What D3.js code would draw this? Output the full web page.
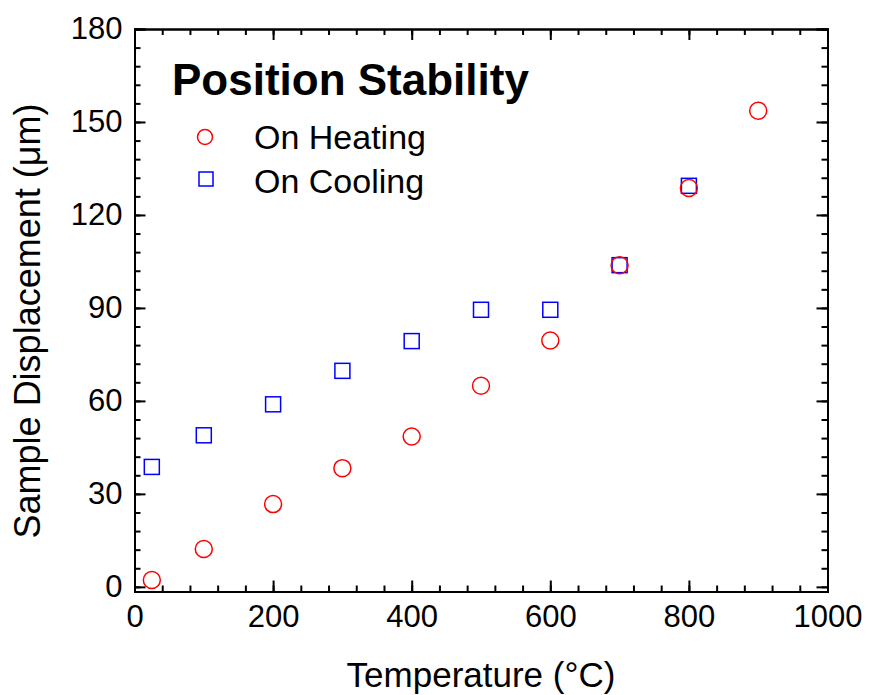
<!DOCTYPE html>
<html lang="en">
  <head>
    <meta charset="UTF-8" />
    <title>Position Stability</title>
    <style>
      body { margin: 0; background: #fff; }
      text { font-family: "Liberation Sans", Arial, sans-serif; fill: #000; }
      .axis path { stroke: #000; stroke-width: 2px; }
      .axis line { stroke: #000; stroke-width: 2px; }
      .axis text { font-size: 31px; font-family: "Liberation Sans", Arial, sans-serif; }
      .heat { fill: none; stroke: rgb(255,0,0); stroke-width: 1.5px; }
      .cool { fill: none; stroke: rgb(0,0,255); stroke-width: 1.5px; }
    </style>
  </head>
  <body>
    <script src="https://cdn.jsdelivr.net/npm/d3@7"></script>
    <script>

      // Data
      var heatTemp = [25, 100, 200, 300, 400, 500, 600, 700, 800, 900];
      var heatDisp = [2.2, 12.2, 26.7, 38.3, 48.5, 64.9, 79.5, 103.8, 128.7, 153.6];

      var coolTemp = [25, 100, 200, 300, 400, 500, 600, 700, 800];
      var coolDisp = [38.7, 48.9, 58.9, 69.7, 79.3, 89.4, 89.4, 103.8, 129.4];

      var xTicks = [0, 200, 400, 600, 800, 1000];
      var yTicks = [0, 30, 60, 90, 120, 150, 180];

      var w = 870, h = 695;
      var margin = { top: 29, right: 42.5, bottom: 103.5, left: 134.5 };
      var iw = w - margin.left - margin.right,
          ih = h - margin.top - margin.bottom;

      var svg = d3.select("body").append("svg")
        .attr("width", w)
        .attr("height", h);

      var g = svg.append("g")
        .attr("transform", "translate(" + margin.left + "," + margin.top + ")");

      // Scales
      var xScale = d3.scaleLinear().domain([0, 1000]).range([0, iw]);
      var yScale = d3.scaleLinear().domain([-1.5, 180]).range([ih, 0]);

      var xMinor = d3.range(0, 1001, 40);
      var yMinor = d3.range(0, 181, 6);

      // Minor ticks, all four sides, pointing inward
      g.append("g").attr("class", "axis")
        .attr("transform", "translate(0," + ih + ")")
        .call(d3.axisBottom(xScale).tickValues(xMinor).tickSize(-6).tickFormat(""));
      g.append("g").attr("class", "axis")
        .call(d3.axisTop(xScale).tickValues(xMinor).tickSize(-6).tickFormat(""));
      g.append("g").attr("class", "axis")
        .call(d3.axisLeft(yScale).tickValues(yMinor).tickSize(-6).tickFormat(""));
      g.append("g").attr("class", "axis")
        .attr("transform", "translate(" + iw + ",0)")
        .call(d3.axisRight(yScale).tickValues(yMinor).tickSize(-6).tickFormat(""));

      // Major ticks with labels on bottom and left
      g.append("g").attr("class", "axis")
        .attr("transform", "translate(0," + ih + ")")
        .call(d3.axisBottom(xScale).tickValues(xTicks).tickSize(-11).tickPadding(13).tickFormat(d3.format("d")));
      g.append("g").attr("class", "axis")
        .call(d3.axisTop(xScale).tickValues(xTicks).tickSize(-11).tickFormat(""));
      g.append("g").attr("class", "axis")
        .call(d3.axisLeft(yScale).tickValues(yTicks).tickSize(-11).tickPadding(12));
      g.append("g").attr("class", "axis")
        .attr("transform", "translate(" + iw + ",0)")
        .call(d3.axisRight(yScale).tickValues(yTicks).tickSize(-11).tickFormat(""));

      // Axis titles
      svg.append("text")
        .attr("x", 481)
        .attr("y", 687)
        .attr("text-anchor", "middle")
        .style("font-size", "35px")
        .text("Temperature (°C)");

      svg.append("text")
        .attr("transform", "translate(40,321) rotate(-90)")
        .attr("text-anchor", "middle")
        .style("font-size", "36px")
        .text("Sample Displacement (μm)");

      // Points
      g.selectAll(".cool")
        .data(d3.range(coolTemp.length))
        .enter().append("rect")
        .attr("class", "cool")
        .attr("x", function(i) { return xScale(coolTemp[i]) - 7.5; })
        .attr("y", function(i) { return yScale(coolDisp[i]) - 7.5; })
        .attr("width", 15)
        .attr("height", 15);

      g.selectAll(".heat")
        .data(d3.range(heatTemp.length))
        .enter().append("circle")
        .attr("class", "heat")
        .attr("cx", function(i) { return xScale(heatTemp[i]); })
        .attr("cy", function(i) { return yScale(heatDisp[i]); })
        .attr("r", 8.5);

      // Title and legend
      svg.append("text")
        .attr("x", 172)
        .attr("y", 95)
        .style("font-size", "44px")
        .style("font-weight", "bold")
        .text("Position Stability");

      svg.append("circle").attr("class", "heat")
        .attr("cx", 205).attr("cy", 137).attr("r", 7.5);
      svg.append("rect").attr("class", "cool")
        .attr("x", 199).attr("y", 172).attr("width", 14).attr("height", 14);

      svg.append("text").attr("x", 254).attr("y", 149)
        .style("font-size", "34px").text("On Heating");
      svg.append("text").attr("x", 254).attr("y", 193)
        .style("font-size", "34px").text("On Cooling");

    </script>
  </body>
</html>
